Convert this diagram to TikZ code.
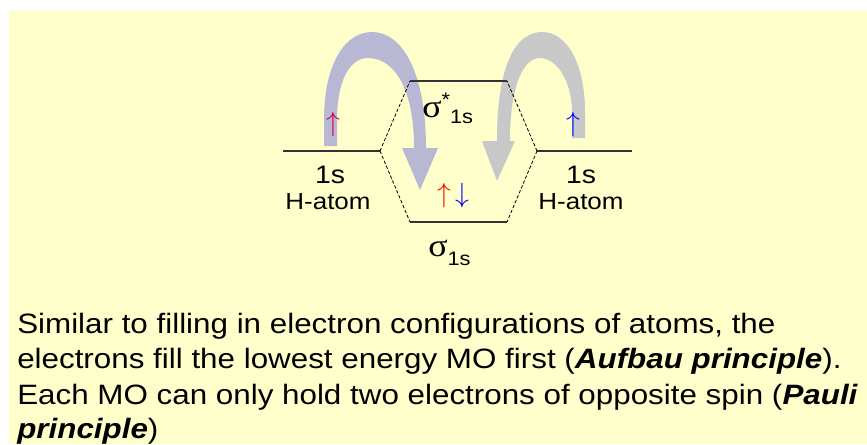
\documentclass[tikz,border=0pt]{standalone}
\usepackage{fontspec}
\setmainfont{Liberation Sans}[FakeStretch=1.12]
\newfontfamily\symfont{Liberation Serif}[FakeStretch=1.12]
\definecolor{paper}{RGB}{255,255,204}
\definecolor{bandA}{RGB}{184,184,212}
\definecolor{bandB}{RGB}{200,200,200}
\definecolor{spinup}{RGB}{204,0,68}
\newcommand{\sigm}{{\symfont\fontsize{24}{24}\selectfont σ}}

\begin{document}
\begin{tikzpicture}[x=.75pt,y=-.75pt,
  level/.style={line width=.9pt,black!80},
  link/.style={line width=.6pt,dash pattern=on 2.5pt off 1.5pt},
  lbl/.style={anchor=base,inner sep=0pt},
  spin/.style={inner sep=0pt,font=\fontsize{22}{22}\selectfont}]
\useasboundingbox (0,0) rectangle (867,444);
\fill[paper] (9,10) rectangle (867,444);
% curved arrows
\fill[bandA] (324,146)--(324,120) .. controls (324,62) and (346,32) .. (372,32) .. controls (402,32) and (426,72) .. (426,148)--(438,148)--(420,190)--(402,148)--(414,148) .. controls (414,88) and (394,58) .. (368,58) .. controls (349,58) and (337,82) .. (337,120)--(337,146)--cycle;
\fill[bandB] (585,138)--(585,112) .. controls (585,62) and (566,32) .. (542,32) .. controls (516,32) and (497,64) .. (497,141)--(482,141)--(497,181)--(515,141)--(510,141) .. controls (510,84) and (524,58) .. (540,58) .. controls (557,58) and (572,82) .. (572,112)--(572,138)--cycle;
% energy levels
\coordinate (a1) at (283,151); \coordinate (a2) at (380,151);
\coordinate (b1) at (537,151); \coordinate (b2) at (632,151);
\coordinate (s1) at (410,81);  \coordinate (s2) at (507,81);
\coordinate (t1) at (410,222); \coordinate (t2) at (507,222);
\draw[level] (a1)--(a2) (b1)--(b2) (s1)--(s2) (t1)--(t2);
\draw[link] (a2)--(s1) (a2)--(t1) (b1)--(s2) (b1)--(t2);
% labels
\node[lbl,font=\fontsize{19}{19}\selectfont] (oA) at (330,183) {1s};
\node[lbl,font=\fontsize{17.4}{17.4}\selectfont] (hA) at (328,209) {H-atom};
\node[lbl,font=\fontsize{19}{19}\selectfont] (oB) at (581,183) {1s};
\node[lbl,font=\fontsize{17.4}{17.4}\selectfont] (hB) at (581,209) {H-atom};
\node[lbl,anchor=base west,font=\fontsize{14.6}{14.6}\selectfont] (anti) at (422,117) {\sigm\raisebox{8.25pt}{*}\raisebox{-4.5pt}{1s}};
\node[lbl,anchor=base west,font=\fontsize{14.6}{14.6}\selectfont] (bond) at (428,256) {\sigm\raisebox{-6.75pt}{1s}};
% electrons
\node[spin,text=spinup] (eA) at (333,125) {$\uparrow$};
\node[spin,text=blue] (eB) at (573,125) {$\uparrow$};
\node[spin,text=red] (eP) at (444,196) {$\uparrow$};
\node[spin,text=blue] (eQ) at (462,196) {$\downarrow$};
% text
\node[lbl,anchor=base west,font=\fontsize{21}{26}\selectfont] (line1) at (17,333) {Similar to filling in electron configurations of atoms, the};
\node[lbl,anchor=base west,font=\fontsize{21}{26}\selectfont] (line2) at (17,368.5) {electrons fill the lowest energy MO first (\textbf{\textit{Aufbau principle}}).};
\node[lbl,anchor=base west,font=\fontsize{21}{26}\selectfont] (line3) at (17,404) {Each MO can only hold two electrons of opposite spin (\textbf{\textit{Pauli}}};
\node[lbl,anchor=base west,font=\fontsize{21}{26}\selectfont] (line4) at (17,438.5) {\textbf{\textit{principle}})};
\end{tikzpicture}
\end{document}
